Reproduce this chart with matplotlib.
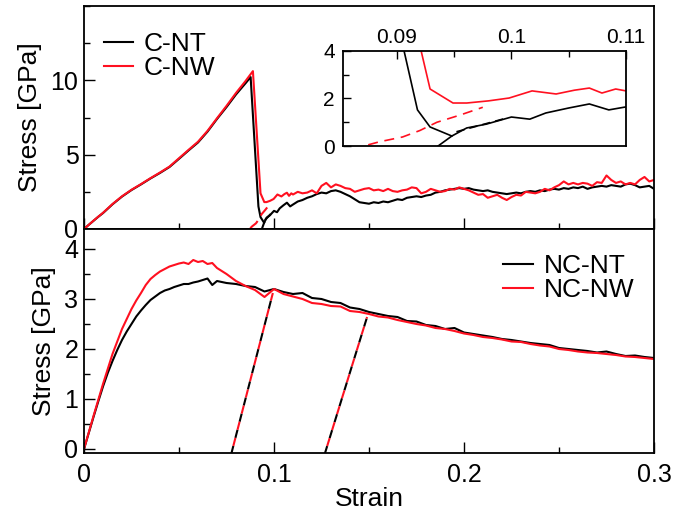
import numpy as np
import matplotlib.pyplot as plt
from matplotlib.ticker import MultipleLocator

plt.rcParams['font.family'] = ['Liberation Sans', 'DejaVu Sans']

# ---- crystalline (top panel) ----
c_pre_x = [0, 0.0025, 0.005, 0.0075, 0.01, 0.015, 0.02, 0.025, 0.03, 0.035,
           0.04, 0.045, 0.05, 0.055, 0.06, 0.065, 0.07, 0.075, 0.08, 0.085]
cnt_pre_y = [0, 0.28, 0.55, 0.82, 1.07, 1.66, 2.18, 2.62, 3.0, 3.4,
             3.77, 4.17, 4.72, 5.28, 5.82, 6.55, 7.4, 8.2, 9.05, 9.8]
cnw_pre_y = [0, 0.28, 0.56, 0.83, 1.09, 1.68, 2.2, 2.64, 3.02, 3.42,
             3.8, 4.2, 4.76, 5.32, 5.87, 6.6, 7.45, 8.28, 9.15, 9.95]

cnt_mid_x = [0.0877, 0.0918, 0.0929, 0.0948, 0.0961, 0.0978, 0.1, 0.1016,
             0.103, 0.105, 0.1068, 0.1085, 0.1098]
cnt_mid_y = [10.22, 1.52, 0.8, 0.42, 0.76, 0.92, 1.22, 1.13,
             1.39, 1.6, 1.77, 1.52, 1.63]
cnw_mid_x = [0.0889, 0.0929, 0.0949, 0.0961, 0.098, 0.0998, 0.1018, 0.1039,
             0.1055, 0.1068, 0.1079, 0.1091, 0.11]
cnw_mid_y = [10.62, 2.4, 1.81, 1.81, 1.9, 2.02, 2.32, 2.19,
             2.35, 2.44, 2.23, 2.4, 2.32]

tail_x = np.linspace(0.1125, 0.3, 76)
cnt_tail_y = [1.85, 1.95, 2.1, 2.2, 2.35, 2.45, 2.4, 2.55, 2.6, 2.5,
              2.35, 2.2, 2.0, 1.8, 1.75, 1.7, 1.8, 1.75, 1.85, 1.8,
              1.9, 2.0, 1.95, 2.1, 2.15, 2.2, 2.15, 2.25, 2.3, 2.45,
              2.5, 2.6, 2.65, 2.7, 2.75, 2.7, 2.75, 2.65, 2.6, 2.55,
              2.6, 2.5, 2.45, 2.4, 2.35, 2.4, 2.45, 2.4, 2.5, 2.55,
              2.5, 2.6, 2.55, 2.65, 2.7, 2.65, 2.75, 2.7, 2.8, 2.75,
              2.85, 2.7, 2.8, 2.85, 2.9, 2.85, 2.95, 2.9, 2.85, 3.0,
              3.05, 2.95, 2.8, 2.85, 2.9, 2.7]
cnw_tail_y = [2.5, 2.4, 2.45, 2.6, 2.4, 2.9, 3.1, 2.8, 3.0, 2.9,
              2.75, 2.7, 2.5, 2.6, 2.7, 2.75, 2.6, 2.65, 2.55, 2.7,
              2.55, 2.5, 2.6, 2.65, 2.8, 2.75, 2.4, 2.5, 2.7, 2.6,
              2.5, 2.55, 2.7, 2.65, 2.8, 2.7, 2.6, 2.45, 2.3, 2.35,
              2.1, 2.2, 2.3, 2.1, 1.95, 2.15, 2.3, 2.25, 2.5, 2.45,
              2.4, 2.5, 2.7, 2.6, 2.8, 2.95, 3.2, 3.0, 3.1, 3.0,
              3.1, 3.05, 2.9, 3.15, 3.1, 3.6, 3.3, 3.1, 3.2, 3.0,
              3.1, 3.0, 3.3, 3.5, 3.2, 3.3]

cnt_x = np.concatenate([c_pre_x, cnt_mid_x, tail_x])
cnt_y = np.concatenate([cnt_pre_y, cnt_mid_y, cnt_tail_y])
cnw_x = np.concatenate([c_pre_x, cnw_mid_x, tail_x])
cnw_y = np.concatenate([cnw_pre_y, cnw_mid_y, cnw_tail_y])

# unloading branches after fracture
cnt_unload_x = [0.0936, 0.0948]
cnt_unload_y = [0.0, 0.42]
cnt_dash_x = [0.0952, 0.0996]
cnt_dash_y = [0.6, 1.18]
cnw_dash_x = [0.0875, 0.0885, 0.0905, 0.092, 0.0935, 0.0955, 0.0975]
cnw_dash_y = [0.05, 0.18, 0.38, 0.65, 1.0, 1.3, 1.63]

# ---- nanocrystalline (bottom panel) ----
nc_x = [0, 0.0025, 0.005, 0.0075, 0.01, 0.0125, 0.015, 0.0175, 0.02, 0.0225,
        0.025, 0.0275, 0.03, 0.0325, 0.035, 0.0375, 0.04, 0.0425, 0.045, 0.0475,
        0.05, 0.0525, 0.055, 0.0575, 0.06, 0.0625, 0.065, 0.0675, 0.07, 0.075,
        0.08, 0.085, 0.09, 0.095, 0.1, 0.105, 0.11, 0.115, 0.12, 0.125,
        0.13, 0.135, 0.14, 0.145, 0.15, 0.155, 0.16, 0.165, 0.17, 0.175,
        0.18, 0.185, 0.19, 0.195, 0.2, 0.205, 0.21, 0.215, 0.22, 0.225,
        0.23, 0.235, 0.24, 0.245, 0.25, 0.255, 0.26, 0.265, 0.27, 0.275,
        0.28, 0.285, 0.29, 0.295, 0.3]
ncnt_y = [0, 0.32, 0.64, 0.95, 1.25, 1.52, 1.76, 1.98, 2.18, 2.35,
          2.5, 2.65, 2.77, 2.88, 2.98, 3.05, 3.12, 3.17, 3.2, 3.24,
          3.27, 3.3, 3.3, 3.33, 3.35, 3.38, 3.41, 3.28, 3.36, 3.32,
          3.3, 3.26, 3.24, 3.15, 3.2, 3.14, 3.1, 3.12, 3.02, 3.0,
          2.94, 2.92, 2.83, 2.8, 2.74, 2.7, 2.66, 2.64, 2.56, 2.55,
          2.48, 2.46, 2.4, 2.42, 2.33, 2.3, 2.27, 2.24, 2.2, 2.18,
          2.15, 2.12, 2.1, 2.08, 2.02, 2.0, 1.98, 1.96, 1.93, 1.95,
          1.9, 1.86, 1.87, 1.84, 1.82]
ncnw_y = [0, 0.33, 0.66, 0.98, 1.3, 1.6, 1.9, 2.15, 2.4, 2.6,
          2.8, 2.97, 3.12, 3.28, 3.4, 3.48, 3.55, 3.6, 3.65, 3.68,
          3.71, 3.73, 3.7, 3.78, 3.74, 3.76, 3.7, 3.72, 3.62, 3.5,
          3.36, 3.26, 3.18, 3.04, 3.2, 3.1, 3.05, 3.0, 2.92, 2.9,
          2.86, 2.85, 2.76, 2.74, 2.7, 2.65, 2.63, 2.58, 2.54, 2.5,
          2.47, 2.42, 2.4, 2.36, 2.31, 2.28, 2.24, 2.22, 2.19, 2.15,
          2.14, 2.1, 2.07, 2.05, 2.0, 1.98, 1.95, 1.93, 1.92, 1.9,
          1.88, 1.85, 1.84, 1.82, 1.8]

nc_unload1_x = [0.0775, 0.0994]
nc_unload1_y = [-0.1, 3.12]
nc_unload2_x = [0.1267, 0.149]
nc_unload2_y = [-0.1, 2.64]

RED = '#ff1020'
LW = 1.5
FS = 19
TICK_FS = 18

fig = plt.figure(figsize=(6.73, 5.13), dpi=100)
ax1 = fig.add_axes([84 / 673, 1 - 229 / 513, 570 / 673, 223 / 513])
ax2 = fig.add_axes([84 / 673, 1 - 453 / 513, 570 / 673, 224 / 513])


def style(ax, fs=TICK_FS, major=8, minor=4.5):
    for s in ax.spines.values():
        s.set_linewidth(1.3)
    ax.tick_params(which='both', direction='in', labelsize=fs, width=1.0)
    ax.tick_params(which='major', length=major)
    ax.tick_params(which='minor', length=minor)


def dashed_pair(ax, x, y, lw=LW):
    ax.plot(x, y, color='black', lw=lw, linestyle=(0, (4, 4)))
    ax.plot(x, y, color=RED, lw=lw, linestyle=(4, (4, 4)))


legend_kw = dict(frameon=False, fontsize=FS, handlelength=1.1,
                 handletextpad=0.42, labelspacing=0.0, borderaxespad=0.35)

# top panel
ax1.plot(cnt_x, cnt_y, color='black', lw=LW, label='C-NT')
ax1.plot(cnw_x, cnw_y, color=RED, lw=LW, label='C-NW')
ax1.plot(cnt_unload_x, cnt_unload_y, color='black', lw=LW)
ax1.plot(cnt_dash_x, cnt_dash_y, color='black', lw=LW, linestyle=(0, (4, 2)))
ax1.plot(cnw_dash_x, cnw_dash_y, color=RED, lw=LW, linestyle=(0, (5, 3)))
ax1.set_xlim(0, 0.3)
ax1.set_ylim(0, 15)
ax1.xaxis.set_major_locator(MultipleLocator(0.1))
ax1.xaxis.set_minor_locator(MultipleLocator(0.05))
ax1.set_yticks([0, 5, 10])
ax1.set_yticklabels(['0', '5', '10'])
ax1.yaxis.set_minor_locator(MultipleLocator(2.5))
ax1.tick_params(axis='x', labelbottom=False)
style(ax1)
ax1.tick_params(axis='y', pad=4)
ax1.set_ylabel('Stress [GPa]', fontsize=FS, labelpad=6)
ax1.legend(loc='upper left', bbox_to_anchor=(0, 1 - 6.5 / 223), **legend_kw)

# inset
axi = fig.add_axes([343 / 673, 1 - 146 / 513, 283 / 673, 95 / 513])
axi.plot(cnt_x, cnt_y, color='black', lw=1.2)
axi.plot(cnw_x, cnw_y, color=RED, lw=1.2)
axi.plot(cnt_unload_x, cnt_unload_y, color='black', lw=1.2)
axi.plot(cnt_dash_x, cnt_dash_y, color='black', lw=1.2, linestyle=(0, (5, 3)))
axi.plot(cnw_dash_x, cnw_dash_y, color=RED, lw=1.2, linestyle=(0, (6, 4)))
axi.set_xlim(0.0853, 0.11)
axi.set_ylim(0, 4)
axi.set_xticks([0.09, 0.1, 0.11])
axi.set_xticklabels(['0.09', '0.1', '0.11'])
axi.xaxis.set_minor_locator(MultipleLocator(0.005))
axi.set_yticks([0, 2, 4])
axi.set_yticklabels(['0', '2', '4'])
axi.yaxis.set_minor_locator(MultipleLocator(1))
style(axi, fs=15, major=6, minor=4)
axi.tick_params(axis='x', which='both', top=True, bottom=False,
                labeltop=True, labelbottom=False, pad=3)
axi.tick_params(axis='y', pad=6)

# bottom panel
ax2.plot(nc_x, ncnt_y, color='black', lw=LW, label='NC-NT')
ax2.plot(nc_x, ncnw_y, color=RED, lw=LW, label='NC-NW')
dashed_pair(ax2, nc_unload1_x, nc_unload1_y)
dashed_pair(ax2, nc_unload2_x, nc_unload2_y)
ax2.set_xlim(0, 0.3)
ax2.set_ylim(-0.08, 4.4)
ax2.set_xticks([0, 0.1, 0.2, 0.3])
ax2.set_xticklabels(['0', '0.1', '0.2', '0.3'])
ax2.xaxis.set_minor_locator(MultipleLocator(0.05))
ax2.set_yticks([0, 1, 2, 3, 4])
ax2.set_yticklabels(['0', '1', '2', '3', '4'])
ax2.yaxis.set_minor_locator(MultipleLocator(0.5))
style(ax2)
ax2.tick_params(axis='x', pad=7)
ax2.tick_params(axis='y', pad=4)
ax2.set_ylabel('Stress [GPa]', fontsize=FS, labelpad=6)
ax2.set_xlabel('Strain', fontsize=FS, labelpad=0)
ax2.legend(loc='upper right', bbox_to_anchor=(1, 1 - 5.5 / 224), **legend_kw)

fig.savefig('out.png', dpi=100)
